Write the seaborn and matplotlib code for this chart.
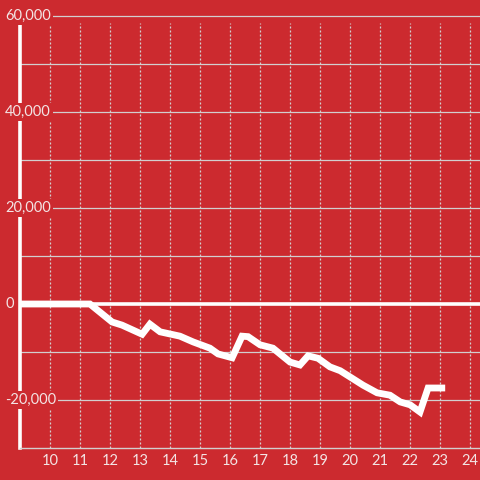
import pandas as pd
import matplotlib
matplotlib.use("Agg")
import matplotlib.pyplot as plt
import matplotlib.transforms as mtransforms
import seaborn as sns

# --- dados ---
hours = [9.0, 11.33, 12.07, 12.4, 13.07, 13.33, 13.67, 14.33, 14.77, 15.33,
         15.6, 16.07, 16.4, 16.6, 17.0, 17.43, 18.0, 18.33, 18.6, 18.93,
         19.33, 19.67, 20.0, 20.43, 20.9, 21.33, 21.67, 22.0, 22.33, 22.6, 23.17]
values = [0, 0, -3750, -4400, -6300, -4200, -5800, -6700, -7900, -9200,
          -10400, -11200, -6700, -6800, -8500, -9200, -12100, -12700, -10800, -11300,
          -13100, -13900, -15200, -16900, -18500, -19000, -20400, -21000, -22500, -17500, -17500]
x_ticks = list(range(10, 25))
y_labels = [60000, 40000, 20000, 0, -20000]
y_grid = list(range(-20000, 60001, 10000))

BG = "#cc2a2f"
GRID = "#d2cfcf"
TXT = "#f3e4e4"

sns.set_style("white", {"axes.facecolor": BG, "figure.facecolor": BG})
plt.rcParams["font.family"] = ["Lato", "DejaVu Sans"]

df = pd.DataFrame({"hour": hours, "value": values})

fig = plt.figure(figsize=(4.8, 4.8), dpi=100)
ax = fig.add_axes([20 / 480, 32 / 480, 460 / 480, 448 / 480])
ax.set_xlim(9, 24.33)
ax.set_ylim(-30000, 63333)

# grade
for v in y_grid:
    ax.axhline(v, color=GRID, lw=0.9, zorder=1)
ax.vlines(x_ticks, -30000, 58500, colors=GRID, lw=0.9,
          linestyles=(0, (1.6, 1.6)), zorder=1)
ax.axhline(0, color="white", lw=2.6, zorder=2)

sns.lineplot(data=df, x="hour", y="value", color="white", lw=4.9,
             ax=ax, zorder=3, solid_capstyle="butt", solid_joinstyle="miter")

for s in ["top", "right"]:
    ax.spines[s].set_visible(False)
ax.spines["left"].set_color("white")
ax.spines["left"].set_linewidth(2.6)
ax.spines["left"].set_bounds(-30000, 58500)
ax.spines["bottom"].set_color(GRID)
ax.spines["bottom"].set_linewidth(1.0)

ax.set_xticks(x_ticks)
ax.set_xticklabels([str(t) for t in x_ticks])
ax.tick_params(axis="x", length=0, pad=4.5, labelsize=10.5, labelcolor=TXT)
ax.set_yticks([])
ax.set_xlabel("")
ax.set_ylabel("")

trans = mtransforms.blended_transform_factory(fig.transFigure, ax.transData)
for v in y_labels:
    ax.text(5 / 480, v, f"{v:,}", transform=trans, ha="left", va="center",
            fontsize=10.5, color=TXT, zorder=6,
            bbox=dict(facecolor=BG, edgecolor="none", pad=1.5))

fig.savefig("out.png", dpi=100, facecolor=BG)
